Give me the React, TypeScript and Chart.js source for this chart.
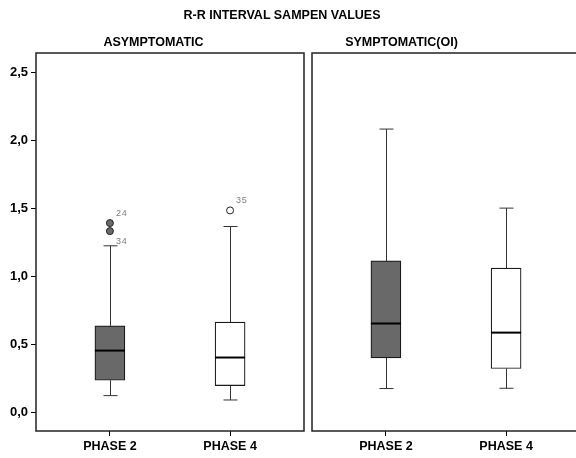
import React, { useEffect, useRef } from "react";
import { Chart, registerables } from "chart.js";
Chart.register(...registerables);

const mainTitle = "R-R INTERVAL SAMPEN VALUES";
const panelTitles = ["ASYMPTOMATIC", "SYMPTOMATIC(OI)"];
const categories = ["PHASE 2", "PHASE 4"];
const yTicks = [0, 0.5, 1.0, 1.5, 2.0, 2.5];

// five-number summaries: [min whisker, Q1, median, Q3, max whisker]
const asymptomaticPhase2 = [0.125, 0.238, 0.456, 0.638, 1.226];
const asymptomaticPhase4 = [0.093, 0.199, 0.405, 0.665, 1.368];
const symptomaticPhase2 = [0.177, 0.402, 0.655, 1.115, 2.084];
const symptomaticPhase4 = [0.179, 0.324, 0.588, 1.062, 1.503];

// outliers per category, with their case labels
const asymptomaticOutliers = [[1.393, 1.334], [1.486]];
const asymptomaticOutlierIds = [["24", "34"], ["35"]];
const symptomaticOutliers: number[][] = [[], []];
const symptomaticOutlierIds: string[][] = [[], []];

const FONT = "'Liberation Sans', Arial, sans-serif";
const BOX_FILLS = ["#696969", "#ffffff"];

function makeConfig(stats: number[][], outliers: number[][], ids: string[][], showY: boolean, padding: { left: number; right: number }): any {
  const plugin = {
    id: "boxWhiskers",
    beforeDatasetsDraw(chart: any) {
      const { ctx, scales } = chart;
      const x = scales.x, y = scales.y;
      ctx.save();
      ctx.strokeStyle = "#333";
      ctx.lineWidth = 1;
      stats.forEach((s, i) => {
        const px = Math.round(x.getPixelForValue(i + 1)) + 0.5;
        const cap = 7;
        ctx.beginPath();
        ctx.moveTo(px, y.getPixelForValue(s[3]));
        ctx.lineTo(px, y.getPixelForValue(s[4]));
        ctx.moveTo(px - cap, y.getPixelForValue(s[4]));
        ctx.lineTo(px + cap, y.getPixelForValue(s[4]));
        ctx.moveTo(px, y.getPixelForValue(s[1]));
        ctx.lineTo(px, y.getPixelForValue(s[0]));
        ctx.moveTo(px - cap, y.getPixelForValue(s[0]));
        ctx.lineTo(px + cap, y.getPixelForValue(s[0]));
        ctx.stroke();
      });
      ctx.restore();
    },
    afterDatasetsDraw(chart: any) {
      const { ctx, scales } = chart;
      const x = scales.x, y = scales.y;
      ctx.save();
      ctx.strokeStyle = "#000";
      ctx.lineWidth = 2;
      stats.forEach((s, i) => {
        const px = x.getPixelForValue(i + 1);
        const py = y.getPixelForValue(s[2]);
        ctx.beginPath();
        ctx.moveTo(px - 15, py);
        ctx.lineTo(px + 15, py);
        ctx.stroke();
      });
      ctx.fillStyle = "#808080";
      ctx.font = `9px ${FONT}`;
      ctx.textAlign = "left";
      ctx.textBaseline = "middle";
      outliers.forEach((group, i) => {
        group.forEach((v, j) => {
          const px = x.getPixelForValue(i + 1);
          const py = y.getPixelForValue(v);
          const dy = j === 0 ? -10 : 10;
          const label = ids[i][j].split("").join(String.fromCharCode(8202));
          ctx.fillText(label, px + 6, py + dy);
        });
      });
      ctx.restore();
    },
    afterDraw(chart: any) {
      const { ctx, chartArea } = chart;
      ctx.save();
      ctx.strokeStyle = "#222";
      ctx.lineWidth = 1.5;
      ctx.strokeRect(chartArea.left, chartArea.top, chartArea.right - chartArea.left, chartArea.bottom - chartArea.top);
      ctx.restore();
    },
  };

  const outlierPoints: any[] = [];
  const outlierFill: string[] = [];
  outliers.forEach((group, i) =>
    group.forEach((v) => {
      outlierPoints.push({ x: i + 1, y: v });
      outlierFill.push(BOX_FILLS[i]);
    })
  );

  return {
    type: "bar",
    data: {
      datasets: [
        {
          type: "bar",
          data: stats.map((s, i) => ({ x: i + 1, y: [s[1], s[3]] })),
          backgroundColor: BOX_FILLS,
          borderColor: "#1a1a1a",
          borderWidth: 1.2,
          borderSkipped: false,
          barThickness: 30,
          grouped: false,
        },
        {
          type: "scatter",
          data: outlierPoints,
          pointBackgroundColor: outlierFill,
          pointBorderColor: "#222",
          pointBorderWidth: 1,
          pointRadius: 3.5,
          showLine: false,
        },
      ],
    },
    options: {
      responsive: false,
      animation: false,
      devicePixelRatio: 1,
      layout: { padding: { left: padding.left, right: padding.right, top: 53, bottom: 0 } },
      plugins: { legend: { display: false }, tooltip: { enabled: false }, title: { display: false } },
      scales: {
        x: {
          type: "linear",
          offset: false,
          min: 0.385,
          max: 2.615,
          afterBuildTicks: (s: any) => {
            s.ticks = categories.map((_, i) => ({ value: i + 1 }));
          },
          afterFit: (s: any) => {
            s.height = 27;
          },
          ticks: {
            autoSkip: false,
            maxRotation: 0,
            padding: 3,
            color: "#000",
            font: { family: FONT, size: 12.5, weight: "bold" },
            callback: (v: any) => categories[Math.round(v) - 1],
          },
          grid: { offset: false, drawOnChartArea: false, drawTicks: true, tickLength: 5, color: "#000" },
          border: { display: false },
        },
        y: {
          type: "linear",
          display: showY,
          min: -0.135,
          max: 2.643,
          afterBuildTicks: (s: any) => {
            s.ticks = yTicks.map((v) => ({ value: v }));
          },
          afterFit: (s: any) => {
            s.width = showY ? 36 : 0;
          },
          ticks: {
            padding: 3,
            color: "#000",
            font: { family: FONT, size: 13, weight: "bold" },
            callback: (v: any) => Number(v).toFixed(1).replace(".", ","),
          },
          grid: { drawOnChartArea: false, drawTicks: true, tickLength: 5, color: "#000" },
          border: { display: false },
        },
      },
    },
    plugins: [plugin],
  };
}

function Panel(props: any) {
  const ref = useRef<HTMLCanvasElement | null>(null);
  useEffect(() => {
    if (!ref.current) return;
    const chart = new Chart(ref.current, makeConfig(props.stats, props.outliers, props.ids, props.showY, props.padding));
    return () => chart.destroy();
  }, []);
  return (
    <canvas ref={ref} width={props.width} height={458} style={{ position: "absolute", left: props.left, top: 0, width: props.width, height: 458 }} />
  );
}

function Title(props: { text: string; cx: number; cy: number; size: number }) {
  return (
    <div style={{ position: "absolute", left: props.cx - 150, width: 300, top: props.cy - 8, height: 16, lineHeight: "16px", textAlign: "center", fontFamily: FONT, fontWeight: "bold", fontSize: props.size, color: "#000", whiteSpace: "nowrap" }}>
      {props.text}
    </div>
  );
}

export default function App() {
  return (
    <div style={{ position: "absolute", left: 0, top: 0, width: 576, height: 458, overflow: "hidden", background: "#fff" }}>
      <Panel left={0} width={309} stats={[asymptomaticPhase2, asymptomaticPhase4]} outliers={asymptomaticOutliers} ids={asymptomaticOutlierIds} showY={true} padding={{ left: 0, right: 2 }} />
      <Panel left={308} width={272} stats={[symptomaticPhase2, symptomaticPhase4]} outliers={symptomaticOutliers} ids={symptomaticOutlierIds} showY={false} padding={{ left: 4, right: 0 }} />
      <Title text={mainTitle} cx={282} cy={15} size={12.5} />
      <Title text={panelTitles[0]} cx={153.5} cy={42} size={12.5} />
      <Title text={panelTitles[1]} cx={401.5} cy={42} size={12.5} />
    </div>
  );
}
